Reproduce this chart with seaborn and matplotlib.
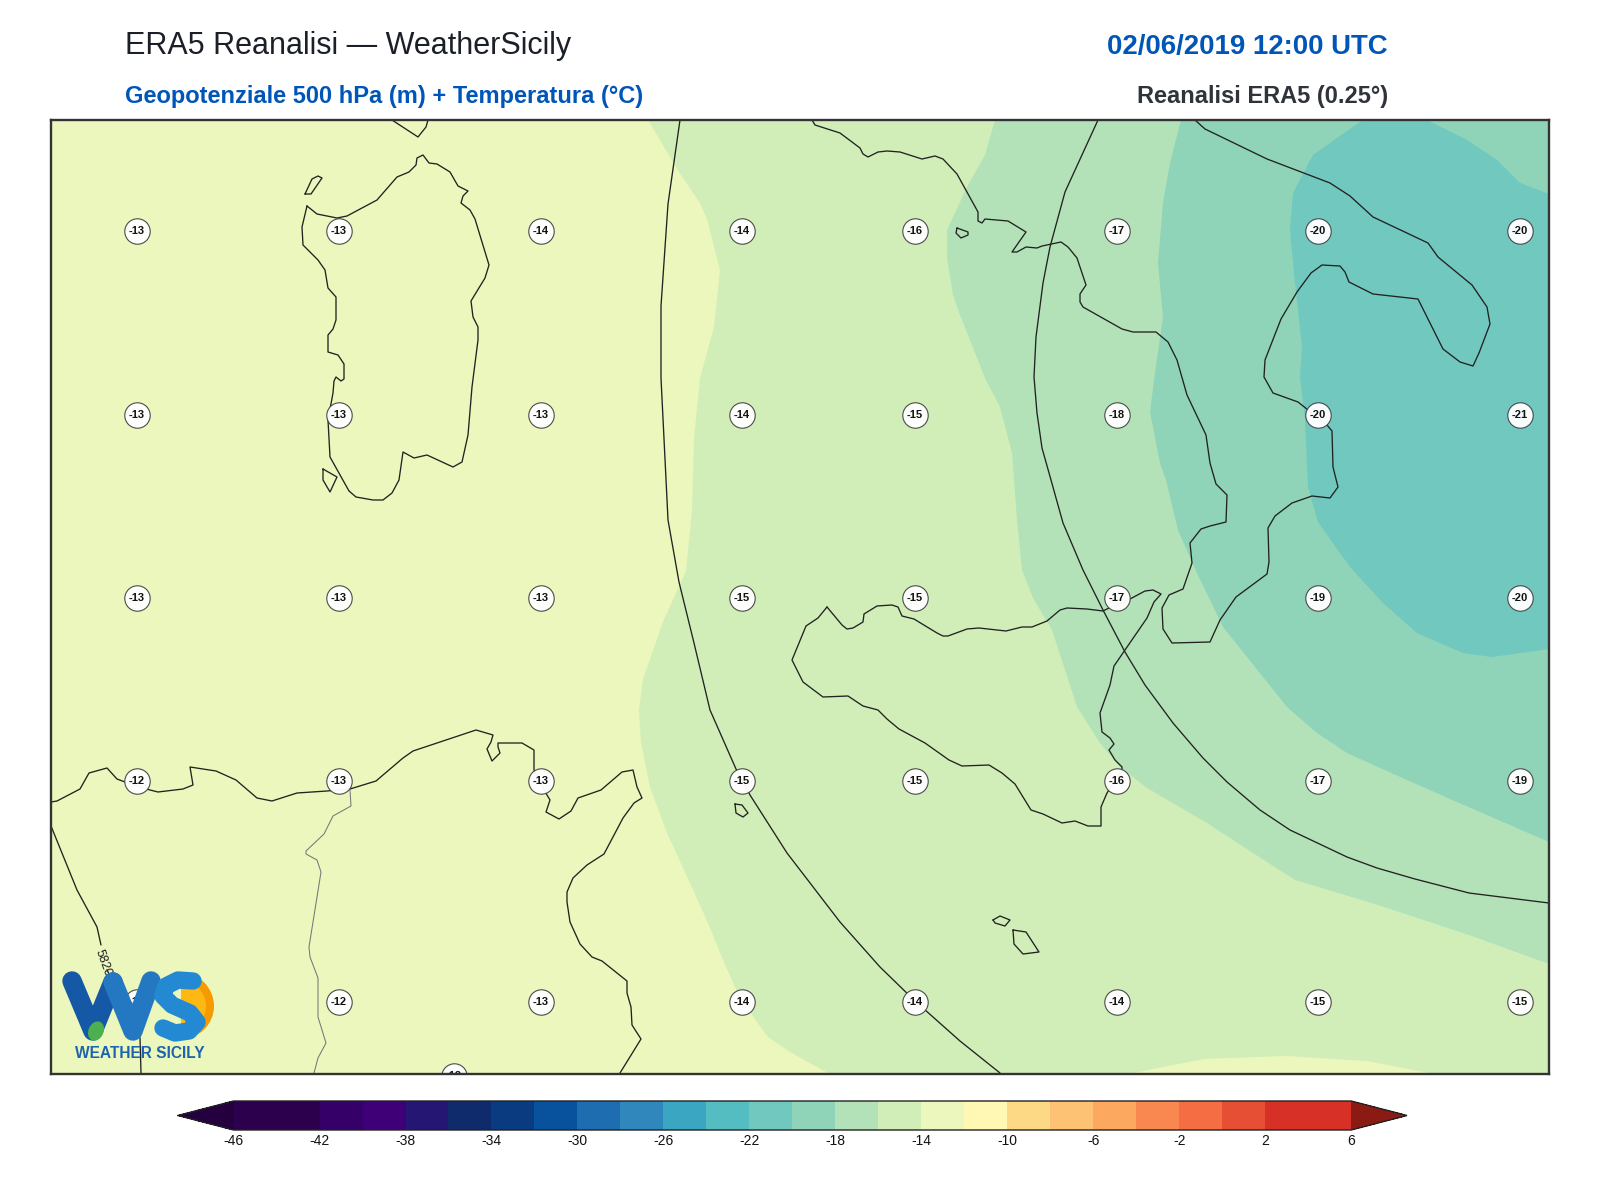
import numpy as np
import pandas as pd
import matplotlib
matplotlib.use("Agg")
import matplotlib.pyplot as plt
from matplotlib.colors import ListedColormap, BoundaryNorm
from matplotlib.cm import ScalarMappable
from matplotlib.patches import Wedge, Ellipse
import seaborn as sns

# ---- colour scale ----
LEVELS = list(range(-46, 8, 2))
BAND_COLORS = ["#2c004d", "#2c004d", "#350067", "#3f0077", "#241672", "#0f2b6b", "#0a3a7f", "#08519c",
               "#1f6db1", "#2f87bc", "#3aa6c2", "#54bdc1", "#70c8bf", "#8fd3b8", "#b3e2b8", "#d2eeb8",
               "#ebf7bc", "#fef8b4", "#fed985", "#fdc274", "#fda85f", "#f98850", "#f46d43", "#e64f34",
               "#d73027", "#d73027"]
UNDER_COLOR = "#25003f"
OVER_COLOR = "#8b1a15"
TICKS = list(range(-46, 10, 4))

# ---- temperature station grid (map grid coordinates) ----
GRID_X = [137, 339, 541, 742, 915, 1117, 1318, 1520]
GRID_Y = [231, 415, 598, 781, 1002]
TEMP_ROWS = [
    [-13, -13, -14, -14, -16, -17, -20, -20],
    [-13, -13, -13, -14, -15, -18, -20, -21],
    [-13, -13, -13, -15, -15, -17, -19, -20],
    [-12, -13, -13, -15, -15, -16, -17, -19],
    [-12, -12, -13, -14, -14, -14, -15, -15],
]
EXTRA_STATION = (454, 1076, -12)

# ---- isotherm bands: value inside band, outline ----
BAND_M15 = [(648,120),(679,172),(700,203),(707,219),(720,270),(714,327),(700,378),(694,439),(692,510),(686,571),
            (663,622),(643,679),(639,710),(641,743),(650,787),(667,833),(690,883),(708,923),(723,960),(735,987),
            (752,1015),(768,1037),(790,1052),(828,1073),(1549,1073),(1549,120)]
BAND_M17 = [(995,120),(985,155),(967,187),(947,230),(947,258),(953,295),(960,315),(985,378),(1000,407),(1012,453),
            (1017,520),(1022,570),(1033,598),(1052,630),(1077,707),(1100,743),(1120,767),(1147,788),(1207,823),
            (1253,853),(1295,880),(1378,905),(1469,935),(1549,964),(1549,120)]
BAND_M19 = [(1181,120),(1170,163),(1163,203),(1158,263),(1163,317),(1155,373),(1150,412),(1160,463),(1166,480),
            (1178,530),(1197,573),(1223,627),(1247,657),(1287,707),(1317,733),(1347,753),(1407,780),(1457,802),
            (1549,842),(1549,120)]
BAND_M21 = [(1363,120),(1337,138),(1313,155),(1293,193),(1290,230),(1295,283),(1302,347),(1300,377),(1305,420),
            (1308,487),(1318,522),(1350,567),(1383,603),(1417,633),(1463,653),(1492,657),(1549,649),(1549,194),
            (1520,183),(1497,160),(1467,140),(1427,120)]
BAND_M13_LENS = [(1133,1073),(1204,1059),(1286,1056),(1367,1061),(1429,1073)]

# ---- geopotential isolines ----
Z_5820_A = [(51,826),(77,890),(97,927),(101,945)]
Z_5820_B = [(107,970),(128,1010),(140,1038),(141,1073)]
Z_5820_LABEL = "5820"
Z_5800 = [(680,120),(668,204),(661,306),(661,378),(665,459),(668,520),(679,582),(694,643),(710,710),(736,769),
          (750,795),(787,853),(840,922),(880,967),(915,1001),(960,1041),(1000,1073)]
Z_5780 = [(1098,120),(1065,192),(1050,247),(1043,283),(1036,337),(1034,377),(1037,413),(1042,448),(1051,480),
          (1063,523),(1083,570),(1103,610),(1125,652),(1145,685),(1173,723),(1203,758),(1227,782),(1260,810),
          (1290,830),(1347,857),(1377,868),(1415,879),(1469,893),(1549,903)]

# ---- coastlines ----
ITALY = [(812,120),(815,125),(840,133),(860,148),(863,154),(868,157),(878,152),(887,151),(900,152),(922,159),(935,156),
         (943,159),(957,174),(978,212),(978,221),(982,223),(985,219),(1008,221),(1026,232),(1012,252),(1017,252),
         (1026,247),(1037,248),(1042,246),(1061,242),(1068,247),(1077,258),(1086,285),(1080,294),(1080,302),(1083,307),
         (1122,329),(1133,332),(1156,332),(1168,342),(1177,360),(1187,395),(1206,435),(1210,463),(1216,484),(1227,495),
         (1226,522),(1210,526),(1201,529),(1190,543),(1192,563),(1183,589),(1169,595),(1162,608),(1163,629),(1172,643),
         (1210,642),(1220,620),(1236,597),(1267,574),(1269,562),(1268,528),(1275,516),(1292,503),(1312,496),(1330,498),
         (1338,487),(1333,467),(1332,431),(1327,425),(1298,402),(1273,393),(1264,377),(1265,360),(1281,319),(1297,292),
         (1311,273),(1322,265),(1340,266),(1345,272),(1349,282),(1373,294),(1418,299),(1443,349),(1460,362),(1473,366),
         (1479,353),(1490,324),(1487,307),(1472,285),(1438,257),(1428,243),(1373,217),(1350,196),(1330,183),(1267,159),
         (1205,129),(1195,120)]
SICILY = [(827,607),(842,625),(847,629),(853,628),(863,622),(864,614),(877,606),(892,605),(898,607),(902,616),(914,619),
          (937,633),(943,636),(948,636),(967,629),(979,628),(1006,631),(1022,627),(1032,627),(1047,621),(1060,610),
          (1067,608),(1087,609),(1103,611),(1109,608),(1130,599),(1145,591),(1153,590),(1161,594),(1154,602),(1147,618),
          (1125,650),(1114,666),(1110,685),(1100,713),(1102,732),(1110,738),(1114,744),(1109,750),(1115,760),(1122,767),
          (1122,770),(1107,793),(1101,807),(1101,826),(1088,826),(1075,821),(1062,823),(1043,814),(1031,810),(1015,784),
          (1002,773),(989,765),(962,766),(949,760),(925,743),(899,729),(887,719),(878,710),(863,706),(848,696),(823,697),
          (803,682),(796,668),(792,660),(806,626),(818,618),(827,607)]
SARDINIA = [(307,206),(317,214),(337,218),(347,216),(377,200),(397,177),(409,172),(416,165),(417,158),(423,155),(429,163),
            (437,164),(450,172),(458,186),(468,191),(463,196),(461,203),(470,210),(475,219),(489,265),(485,278),(471,301),
            (473,317),(478,327),(478,340),(472,387),(468,435),(462,462),(453,467),(427,455),(414,458),(403,452),(399,480),
            (392,493),(383,500),(373,500),(356,497),(349,491),(330,457),(328,420),(333,393),(334,381),(336,377),(341,381),
            (344,379),(344,364),(338,355),(328,352),(328,335),(333,329),(336,320),(336,297),(328,288),(325,270),(318,260),
            (303,245),(302,227),(307,206)]
ASINARA = [(305,194),(311,194),(322,178),(318,176),(312,179),(305,194)]
ANTIOCO = [(323,469),(337,477),(330,492),(323,480),(323,469)]
CORSICA = [(392,120),(418,137),(426,127),(428,120)]
USTICA = [(957,228),(968,232),(968,235),(961,238),(956,233),(957,228)]
PANTELLERIA = [(735,804),(742,805),(748,813),(743,817),(736,813),(735,804)]
LINOSA = [(993,920),(1000,916),(1010,920),(1005,926),(995,923),(993,920)]
LAMPEDUSA = [(1013,930),(1026,932),(1039,952),(1023,954),(1014,944),(1013,930)]
AFRICA = [(51,802),(57,801),(80,789),(89,773),(107,768),(117,779),(125,782),(150,790),(158,792),(183,789),(193,785),
          (190,767),(216,771),(236,780),(257,798),(272,801),(297,793),(327,791),(350,789),(376,781),(403,758),(413,751),
          (476,730),(493,735),(491,742),(487,749),(492,761),(500,753),(498,747),(498,743),(522,743),(534,750),(534,770),
          (547,795),(550,800),(546,812),(559,819),(571,811),(578,798),(601,790),(622,772),(633,770),(637,787),(642,798),
          (634,803),(623,818),(604,854),(587,865),(573,878),(567,892),(567,902),(570,922),(580,944),(592,957),(602,961),
          (627,981),(627,993),(631,1007),(632,1025),(641,1039),(620,1073)]
BORDER = [(350,790),(351,806),(333,816),(324,834),(306,851),(306,854),(317,860),(321,872),(309,947),(310,957),(318,978),
          (318,1017),(326,1043),(318,1058),(314,1073)]

# ---- texts ----
TITLE_LEFT = "ERA5 Reanalisi — WeatherSicily"
TITLE_RIGHT = "02/06/2019 12:00 UTC"
SUB_LEFT = "Geopotenziale 500 hPa (m) + Temperatura (°C)"
SUB_RIGHT = "Reanalisi ERA5 (0.25°)"
LOGO_TEXT = "WEATHER SICILY"

# ---- logo shapes ----
LOGO_W_LEFT = [(72,981),(93,1031),(113,982)]
LOGO_W_RIGHT = [(113,982),(133,1031),(151,981)]
LOGO_S = [(193,981),(178,980),(166,986),(163,996),(172,1005),(190,1013),(197,1022),(189,1031),(175,1033),(163,1028)]

sns.set_theme(style="white")
plt.rcParams["font.family"] = ["Liberation Sans", "DejaVu Sans"]

fig = plt.figure(figsize=(16, 12), dpi=100, facecolor="white")
ax = fig.add_axes([51/1600, 1-1074/1200, 1498/1600, 954/1200])

cmap = ListedColormap(BAND_COLORS)
cmap.set_under(UNDER_COLOR)
cmap.set_over(OVER_COLOR)
norm = BoundaryNorm(LEVELS, cmap.N)

ax.set_facecolor(cmap(norm(-13)))


def band(points, value):
    xs, ys = zip(*points)
    ax.fill(xs, ys, color=cmap(norm(value)), lw=0, zorder=1)


band(BAND_M15, -15)
band(BAND_M17, -17)
band(BAND_M19, -19)
band(BAND_M21, -21)
band(BAND_M13_LENS, -13)


def line(points, color="#222222", lw=0.95, zorder=3):
    df = pd.DataFrame(points, columns=["x", "y"])
    sns.lineplot(data=df, x="x", y="y", sort=False, estimator=None, color=color, lw=lw, ax=ax, zorder=zorder)


for coast in [ITALY, SICILY, SARDINIA, ASINARA, ANTIOCO, CORSICA, USTICA, PANTELLERIA, LINOSA, LAMPEDUSA, AFRICA]:
    line(coast)
line(BORDER, color="#777777", lw=0.75)
for iso in [Z_5820_A, Z_5820_B, Z_5800, Z_5780]:
    line(iso)
ax.text(103, 963, Z_5820_LABEL, rotation=-70, ha="center", va="center", fontsize=9, color="#222222", zorder=3)

rows = []
for y, vals in zip(GRID_Y, TEMP_ROWS):
    for x, v in zip(GRID_X, vals):
        rows.append((x, y, v))
rows.append(EXTRA_STATION)
stations = pd.DataFrame(rows, columns=["x", "y", "t"])
sns.scatterplot(data=stations, x="x", y="y", s=335, color="white", edgecolor="#444444", linewidth=0.8,
                alpha=0.96, ax=ax, zorder=4, legend=False)
for r in stations.itertuples():
    ax.text(r.x, r.y, f"{r.t}", ha="center", va="center", fontsize=8, fontweight="bold", color="#111111",
            zorder=5, clip_on=True)

# logo
ax.add_patch(Wedge((181, 1006), 33, -90, 90, color="#f59b00", lw=0, zorder=6))
ax.add_patch(Wedge((181, 1006), 25, -90, 90, color="#fdb813", lw=0, zorder=6))
for pts, col, w in [(LOGO_W_LEFT, "#1558a6", 14), (LOGO_W_RIGHT, "#2478c2", 14), (LOGO_S, "#2389d2", 12.5)]:
    xs, ys = zip(*pts)
    ax.plot(xs, ys, color=col, lw=w, solid_capstyle="round", solid_joinstyle="round", zorder=7)
ax.add_patch(Ellipse((96, 1031), 15, 20, angle=25, color="#4caf50", lw=0, zorder=8))
ax.text(140, 1054, LOGO_TEXT, ha="center", va="center", fontsize=11.2, fontweight="bold", color="#1d64ae", zorder=8)

ax.set_xlim(51, 1549)
ax.set_ylim(1074, 120)
ax.set_xlabel("")
ax.set_ylabel("")
ax.set_xticks([])
ax.set_yticks([])
for s in ax.spines.values():
    s.set_visible(True)
    s.set_color("#333333")
    s.set_linewidth(1.7)
    s.set_zorder(10)

# colour bar
cax = fig.add_axes([177.7/1600, 1-1130/1200, 1229.3/1600, 29/1200])
cb = fig.colorbar(ScalarMappable(norm=norm, cmap=cmap), cax=cax, orientation="horizontal", extend="both",
                  extendfrac=0.05, ticks=TICKS, spacing="uniform", drawedges=False)
cb.ax.minorticks_off()
cb.ax.tick_params(which="both", length=0, labelsize=10, pad=3, labelcolor="#111111")
cb.ax.set_xticklabels([str(t) for t in TICKS])
cb.outline.set_edgecolor("#222222")
cb.outline.set_linewidth(1.0)

# titles
fig.text(124.5/1600, 1-54/1200, TITLE_LEFT, fontsize=22, color="#1a1f28", ha="left", va="baseline")
fig.text(124.5/1600, 1-103/1200, SUB_LEFT, fontsize=17.0, color="#0055b8", fontweight="bold", ha="left", va="baseline")
fig.text(1388/1600, 1-54/1200, TITLE_RIGHT, fontsize=19.9, color="#0055b8", fontweight="bold", ha="right", va="baseline")
fig.text(1388/1600, 1-103/1200, SUB_RIGHT, fontsize=17.0, color="#2f333a", fontweight="bold", ha="right", va="baseline")

fig.savefig("out.png", dpi=100, facecolor="white")
